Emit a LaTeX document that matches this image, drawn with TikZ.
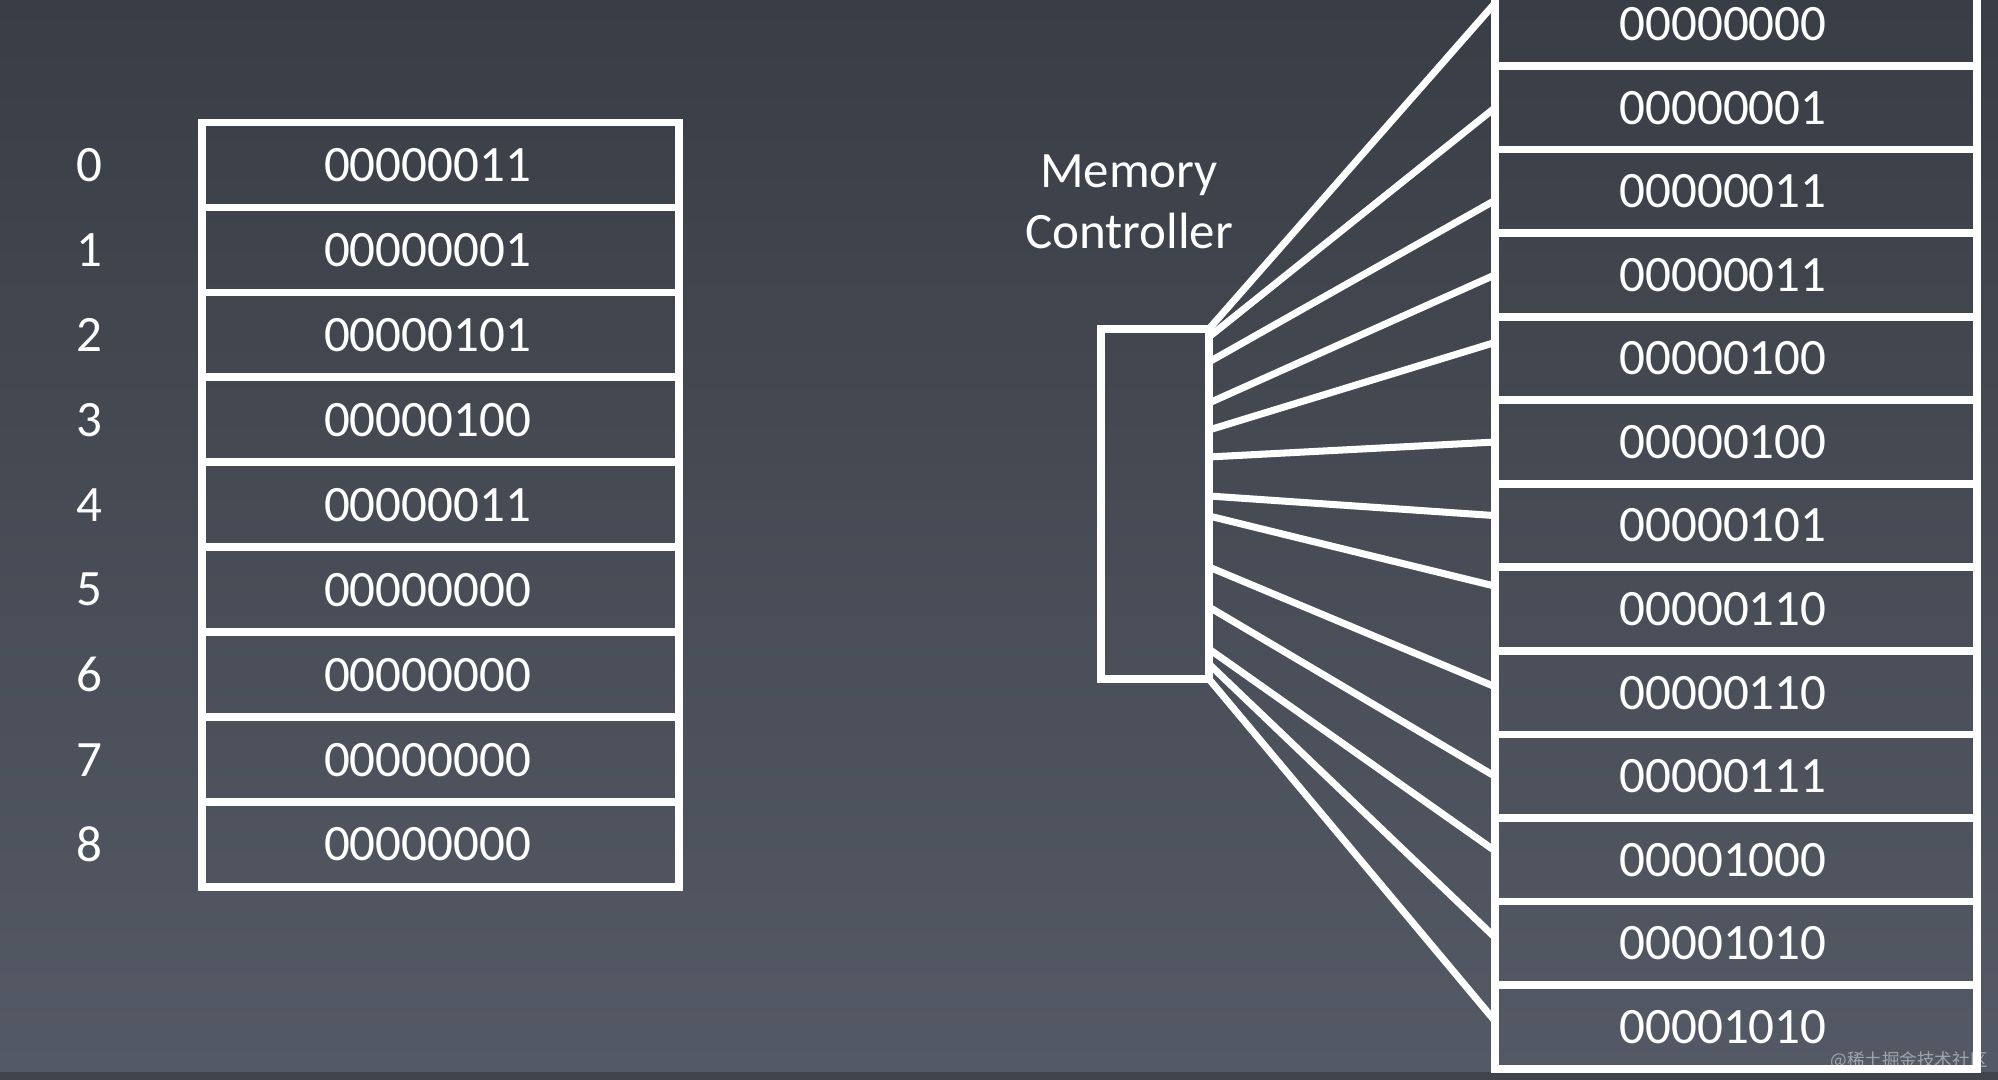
\documentclass[tikz,border=0pt]{standalone}
\usepackage{fontspec}
\setmainfont{Carlito}
\newfontfamily\cjk{Noto Sans CJK SC}
\usepackage{tikz}
\usepackage{xcolor}
\usetikzlibrary{positioning}
\definecolor{bgtop}{RGB}{57,61,69}
\definecolor{bgbot}{RGB}{84,90,101}
\definecolor{bgstrip}{RGB}{64,68,77}

\begin{document}
\begin{tikzpicture}[x=0.01cm,y=-0.01cm,node distance=0pt]
	\tikzstyle{cell}=[draw=white,line width=2.2pt,outer sep=0pt,inner sep=0pt,text=white,font=\fontsize{14.5}{17.4}\selectfont,execute at begin node={\hspace*{-0.26cm}}]
	\tikzstyle{lcell}=[cell,minimum width=4.77cm,minimum height=0.849cm]
	\tikzstyle{rcell}=[cell,minimum width=4.82cm,minimum height=0.835cm]
	\tikzstyle{idx}=[text=white,font=\fontsize{14.5}{17.4}\selectfont]
	\tikzstyle{ctrl}=[draw=white,line width=2.2pt,outer sep=0pt,minimum width=1.08cm,minimum height=3.5cm]
	\tikzstyle{wire}=[draw=white,line width=2pt]
	\useasboundingbox (0,0) rectangle (1998,1080);
	\shade[top color=bgtop,bottom color=bgbot] (0,0) rectangle (1998,1072);
	\fill[bgstrip] (0,1072) rectangle (1998,1080);
	\clip (0,0) rectangle (1998,1080);
	% array in memory
	\node[lcell] (l0) at (440.5,165) {00000011};
	\node[lcell,below=of l0] (l1) {00000001};
	\node[lcell,below=of l1] (l2) {00000101};
	\node[lcell,below=of l2] (l3) {00000100};
	\node[lcell,below=of l3] (l4) {00000011};
	\node[lcell,below=of l4] (l5) {00000000};
	\node[lcell,below=of l5] (l6) {00000000};
	\node[lcell,below=of l6] (l7) {00000000};
	\node[lcell,below=of l7] (l8) {00000000};
	\node[idx,left=0.87cm of l0] (n0) {0};
	\node[idx,left=0.87cm of l1] (n1) {1};
	\node[idx,left=0.87cm of l2] (n2) {2};
	\node[idx,left=0.87cm of l3] (n3) {3};
	\node[idx,left=0.87cm of l4] (n4) {4};
	\node[idx,left=0.87cm of l5] (n5) {5};
	\node[idx,left=0.87cm of l6] (n6) {6};
	\node[idx,left=0.87cm of l7] (n7) {7};
	\node[idx,left=0.87cm of l8] (n8) {8};
	% memory cells
	\node[rcell] (r0) at (1736,24.3) {00000000};
	\node[rcell,below=of r0] (r1) {00000001};
	\node[rcell,below=of r1] (r2) {00000011};
	\node[rcell,below=of r2] (r3) {00000011};
	\node[rcell,below=of r3] (r4) {00000100};
	\node[rcell,below=of r4] (r5) {00000100};
	\node[rcell,below=of r5] (r6) {00000101};
	\node[rcell,below=of r6] (r7) {00000110};
	\node[rcell,below=of r7] (r8) {00000110};
	\node[rcell,below=of r8] (r9) {00000111};
	\node[rcell,below=of r9] (r10) {00001000};
	\node[rcell,below=of r10] (r11) {00001010};
	\node[rcell,below=of r11] (r12) {00001010};
	% controller
	\node[ctrl] (mc) at (1155,504) {};
	\node[idx,align=center] (mctext) at (1129,202) {Memory\\Controller};
	\draw[wire] (mc.north east) -- ([yshift=0.21cm]r0.west);
	\draw[wire] ([yshift=-0.08cm]mc.north east) -- (r1.west);
	\draw[wire] ([yshift=-0.33cm]mc.north east) -- ([yshift=-0.09cm]r2.west);
	\draw[wire] ([yshift=-0.74cm]mc.north east) -- (r3.west);
	\draw[wire] ([yshift=-1.01cm]mc.north east) -- ([yshift=0.16cm]r4.west);
	\draw[wire] ([yshift=-1.28cm]mc.north east) -- (r5.west);
	\draw[wire] ([yshift=-1.67cm]mc.north east) -- ([yshift=0.10cm]r6.west);
	\draw[wire] ([yshift=-1.87cm]mc.north east) -- ([yshift=0.23cm]r7.west);
	\draw[wire] ([yshift=-2.38cm]mc.north east) -- ([yshift=0.06cm]r8.west);
	\draw[wire] ([yshift=-2.78cm]mc.north east) -- (r9.west);
	\draw[wire] ([yshift=-3.20cm]mc.north east) -- ([yshift=0.09cm]r10.west);
	\draw[wire] ([yshift=-3.35cm]mc.north east) -- ([yshift=0.06cm]r11.west);
	\draw[wire] (mc.south east) -- ([yshift=0.06cm]r12.west);
	\node[text=white,opacity=0.45,font=\cjk\fontsize{5}{6}\selectfont] (wm) at (1909,1061) {@稀土掘金技术社区};
\end{tikzpicture}
\end{document}
